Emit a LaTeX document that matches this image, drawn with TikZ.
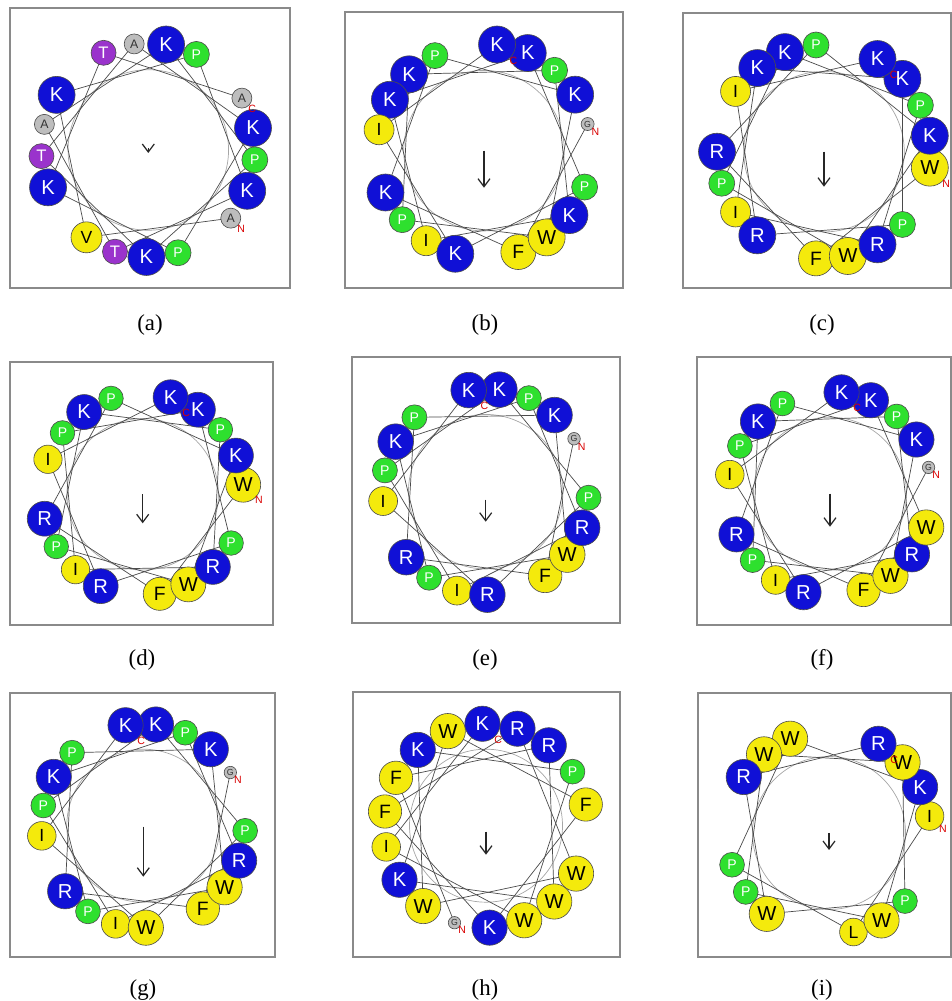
\documentclass[tikz,border=0pt]{standalone}
\usepackage{fontspec}
\setmainfont{Liberation Serif}
\newfontfamily\aafont{Liberation Sans}
\usetikzlibrary{arrows.meta}
\definecolor{wheelBlue}{HTML}{1010D6}
\definecolor{wheelGreen}{HTML}{2EE02E}
\definecolor{wheelYellow}{HTML}{F4EA0C}
\definecolor{wheelPurple}{HTML}{9A33CC}
\definecolor{wheelGray}{HTML}{BDBDBD}
\definecolor{wheelLine}{HTML}{4A4A4A}
\definecolor{wheelFrame}{HTML}{8A8A8A}
% #1 name, #2/#3 centre, #4 ring radius, #5 angle of residue 1, #6 turn per residue,
% #7 sequence N->C, #8/#9 moment arrow from/to (y)
\newcommand{\helwheel}[9]{%
  \begin{scope}[shift={(#2,#3)}]
    \pgfmathsetmacro\rs{#4/107}
    \coordinate (#1o) at (0,#8);
    \coordinate (#1m) at (0,#9);
    \draw[core] (0,0) circle (0.75*#4);
    \foreach \res [count=\i from 0] in {#7}{%
      \coordinate (#1c\i) at ({#5-\i*#6}:#4);
      \xdef\wlast{\i}}
    \foreach \i in {1,...,\wlast}{%
      \pgfmathtruncatemacro\j{\i-1}
      \draw[link] (#1c\j) -- (#1c\i);}
    \foreach \res [count=\i from 0] in {#7}
      \node[aa\res] (#1r\i) at (#1c\i) {\res};
    \node[termlab] (#1n) at ([shift={(3,-3)}]#1r0.south east) {N};
    \node[termlab] (#1cl) at ([shift={(3,-3)}]#1r\wlast.south east) {C};
    \draw[moment] (#1o) -- (#1m);
  \end{scope}}

\begin{document}
\begin{tikzpicture}[x=0.02cm,y=0.02cm,
  frame/.style={draw=wheelFrame,line width=0.6pt},
  core/.style={draw=gray!70,line width=0.4pt},
  link/.style={draw=wheelLine,line width=0.4pt},
  res/.style={circle,draw=black!70,line width=0.35pt,inner sep=0pt},
  aaK/.style={res,fill=wheelBlue,text=white,minimum size=\rs*0.74cm,font=\aafont\fontsize{11.5}{12}\selectfont},
  aaR/.style={aaK},
  aaW/.style={res,fill=wheelYellow,text=black,minimum size=\rs*0.74cm,font=\aafont\fontsize{11.5}{12}\selectfont},
  aaF/.style={res,fill=wheelYellow,text=black,minimum size=\rs*0.70cm,font=\aafont\fontsize{11}{12}\selectfont},
  aaI/.style={res,fill=wheelYellow,text=black,minimum size=\rs*0.60cm,font=\aafont\fontsize{10}{11}\selectfont},
  aaV/.style={aaI,minimum size=\rs*0.62cm},
  aaL/.style={aaI,minimum size=\rs*0.58cm},
  aaT/.style={res,fill=wheelPurple,text=white,minimum size=\rs*0.50cm,font=\aafont\fontsize{9.5}{10}\selectfont},
  aaP/.style={res,fill=wheelGreen,text=white,minimum size=\rs*0.52cm,font=\aafont\fontsize{8}{9}\selectfont},
  aaA/.style={res,fill=wheelGray,text=black!80,minimum size=\rs*0.40cm,font=\aafont\fontsize{7}{8}\selectfont},
  aaG/.style={res,fill=wheelGray,text=black!80,minimum size=\rs*0.26cm,font=\aafont\fontsize{5}{6}\selectfont},
  termlab/.style={text=red!85!black,inner sep=0pt,font=\aafont\fontsize{6}{7}\selectfont},
  moment/.style={-{Straight Barb[length=1.6mm,width=2.4mm]},line width=0.7pt,black!85},
  sublab/.style={font=\fontsize{13}{15}\selectfont},
]
\useasboundingbox (0,0) rectangle (952,1001);

% frames
\draw[frame] (10,713) rectangle (290,993);
\draw[frame] (345,713) rectangle (623,989);
\draw[frame] (683,713) rectangle (951,988);
\draw[frame] (10,376) rectangle (273,639);
\draw[frame] (352,378) rectangle (620,644);
\draw[frame] (697,376) rectangle (951,644);
\draw[frame] (10,44) rectangle (275,308);
\draw[frame] (353,44) rectangle (620,309);
\draw[frame] (698,44) rectangle (951,308);

% wheels
\helwheel{wa}{148.3}{851}{107}{-39.57}{85.714}{A,V,K,P,K,T,A,K,P,K,T,A,K,P,K,T,A}{2}{-3}
\helwheel{wb}{484}{850.3}{107}{14.43}{85.714}{G,F,K,P,K,W,P,K,P,K,I,K,K,P,K,I,K}{0}{-37}
\helwheel{wc}{824}{849.3}{107}{-8.57}{85.714}{W,F,R,P,K,W,P,K,P,R,I,K,K,P,R,I,K}{0}{-35}
\helwheel{wd}{142.7}{506.7}{101}{5.43}{85.714}{W,F,R,P,K,W,P,K,P,R,I,P,K,P,R,I,K}{0}{-29}
\helwheel{we}{485.7}{509.3}{103}{30.93}{85.714}{G,F,R,P,K,W,P,K,P,R,I,P,K,P,R,I,K}{-8}{-30}
\helwheel{wf}{830}{507.3}{102}{14.93}{85.714}{G,F,R,P,K,W,P,K,P,R,I,P,K,W,R,I,K}{0}{-33}
\helwheel{wg}{143.3}{175.3}{102}{31.43}{85.714}{G,F,R,P,K,W,P,K,P,R,I,P,K,P,W,I,K}{-1}{-51}
\helwheel{wh}{486}{175.3}{102}{-108}{100}{G,F,R,W,K,W,F,K,F,R,W,W,K,P,W,I,K}{-6}{-29}
\helwheel{wi}{829}{168}{102}{9.57}{85.714}{I,L,P,W,K,W,P,W,W,P,W,R,R}{0}{-17}

% captions
\node[sublab] (lab-a) at (150,676) {(a)};
\node[sublab] (lab-b) at (485,676) {(b)};
\node[sublab] (lab-c) at (822,676) {(c)};
\node[sublab] (lab-d) at (142,341) {(d)};
\node[sublab] (lab-e) at (485,341) {(e)};
\node[sublab] (lab-f) at (822,341) {(f)};
\node[sublab] (lab-g) at (143,11) {(g)};
\node[sublab] (lab-h) at (485,11) {(h)};
\node[sublab] (lab-i) at (822,11) {(i)};
\end{tikzpicture}
\end{document}
